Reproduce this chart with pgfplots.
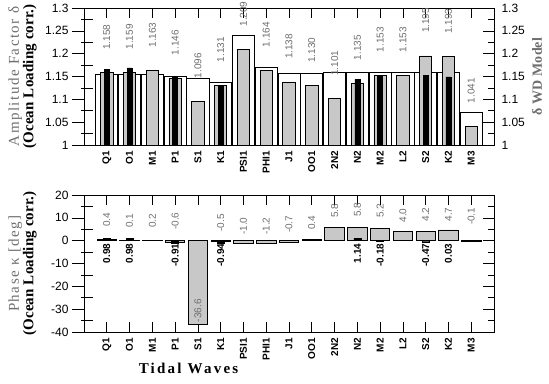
\documentclass[border=0pt]{standalone}
\usepackage{fontspec}
\setmainfont{Liberation Sans}
\newfontfamily\serifA[LetterSpace=10]{Liberation Serif}
\newfontfamily\serifB[LetterSpace=1]{Liberation Serif}
\newfontfamily\serifC[LetterSpace=15]{Liberation Serif}
\usepackage{pgfplots}
\pgfplotsset{compat=1.18}
\definecolor{barg}{RGB}{200,200,200}
\definecolor{txtg}{RGB}{110,110,110}
\pgfplotsset{
  base/.style={scale only axis, width=410pt, height=137pt, xmin=-1, xmax=17,
    /pgf/number format/assume math mode=true,
    tick style={black, line width=0.6pt}, axis line style={line width=0.8pt},
    yticklabel style={font=\fontsize{12}{14}\selectfont}},
  dataaxis/.style={base, xtick={0,...,16},
    xticklabels={Q1,O1,M1,P1,S1,K1,PSI1,PHI1,J1,OO1,2N2,N2,M2,L2,S2,K2,M3},
    xtick pos=both, tick align=inside, major tick length=10pt, ytick=\empty,
    xticklabel style={font=\fontsize{10}{11}\selectfont\bfseries, rotate=90, anchor=east, inner sep=0pt},
    xticklabel shift=6pt, clip mode=individual},
  leftaxis/.style={base, axis x line=none, axis y line*=left, tick align=outside,
    major tick length=12pt, minor tick length=12pt, minor tick style={xshift=9pt},
    every axis y label/.style={at={(axis description cs:0,0.5)}, xshift=-47pt, rotate=90, anchor=south, inner sep=0pt, align=center}},
  rightaxis/.style={base, axis x line=none, axis y line*=right, tick align=inside,
    major tick length=11pt, minor tick length=6pt, yticklabel shift=4pt},
  glabel/.style={draw=none, mark=none, nodes near coords={\pgfplotspointmeta}, point meta=explicit symbolic,
    every node near coord/.style={rotate=90, anchor=west, inner sep=0pt, text=txtg, font=\fontsize{10}{11}\selectfont}},
  klabel/.style={draw=none, mark=none, nodes near coords={\pgfplotspointmeta}, point meta=explicit symbolic,
    every node near coord/.style={rotate=90, anchor=east, inner sep=0pt, text=black, font=\fontsize{10}{11}\selectfont\bfseries}},
}
\begin{document}
\begin{tikzpicture}
\useasboundingbox (0pt,0pt) rectangle (549pt,-383pt);
% ===== top chart =====
\begin{axis}[dataaxis, at={(84pt,-145pt)}, anchor=south west, ymin=1, ymax=1.3]
\addplot[ybar, bar width=0.97, bar shift=0pt, fill=white, draw=black, line width=0.8pt]
 coordinates {(0,1.155)(1,1.155)(2,1.155)(3,1.151)(4,1.146)(5,1.136)(6,1.241)(7,1.170)(8,1.157)(9,1.157)(10,1.160)(11,1.160)(12,1.160)(13,1.160)(14,1.160)(15,1.160)(16,1.072)};
\addplot[ybar, bar width=0.54, bar shift=0pt, fill=barg, draw=black, line width=0.8pt]
 coordinates {(0,1.158)(1,1.159)(2,1.163)(3,1.146)(4,1.096)(5,1.131)(6,1.209)(7,1.164)(8,1.138)(9,1.130)(10,1.101)(11,1.135)(12,1.153)(13,1.153)(14,1.195)(15,1.193)(16,1.041)};
\addplot[ybar, bar width=0.22, bar shift=0pt, fill=black, draw=black, line width=0.4pt]
 coordinates {(0,1.166)(1,1.169)(3,1.150)(5,1.131)(11,1.144)(12,1.152)(14,1.153)(15,1.149)};
\addplot[glabel] coordinates {(0,1.208)[1.158] (1,1.209)[1.159] (2,1.213)[1.163] (3,1.196)[1.146] (4,1.146)[1.096] (5,1.181)[1.131] (6,1.259)[1.209] (7,1.214)[1.164] (8,1.188)[1.138] (9,1.180)[1.130] (10,1.151)[1.101] (11,1.185)[1.135] (12,1.203)[1.153] (13,1.203)[1.153] (14,1.245)[1.195] (15,1.243)[1.193] (16,1.091)[1.041]};
\end{axis}
\begin{axis}[leftaxis, at={(84pt,-145pt)}, anchor=south west, ymin=1, ymax=1.3,
  ytick={1,1.05,1.1,1.15,1.2,1.25,1.3}, minor ytick={1.025,1.075,1.125,1.175,1.225,1.275},
  ylabel={{\fontsize{15}{18}\selectfont\serifA\color{txtg}Amplitude Factor δ}\\{\fontsize{15}{18}\selectfont\serifB\bfseries (Ocean Loading corr.)}}]
\end{axis}
\begin{axis}[rightaxis, at={(84pt,-145pt)}, anchor=south west, ymin=1, ymax=1.3,
  ytick={1,1.05,1.1,1.15,1.2,1.25,1.3}, minor ytick={1.025,1.075,1.125,1.175,1.225,1.275},
  every axis y label/.style={at={(axis description cs:1,0.5)}, xshift=38pt, rotate=90, anchor=north, inner sep=0pt},
  ylabel={\fontsize{14}{18}\selectfont\serifB\bfseries\color{txtg}δ WD Model}]
\end{axis}
% ===== bottom chart =====
\begin{axis}[dataaxis, at={(84pt,-332pt)}, anchor=south west, ymin=-40, ymax=20,
  every axis x label/.style={at={(axis description cs:0.255,0)}, yshift=-31pt, anchor=north, inner sep=0pt},
  xlabel={\fontsize{15}{18}\selectfont\serifC\bfseries Tidal Waves}]
\addplot[ybar, bar width=0.85, bar shift=0pt, fill=barg, draw=black, line width=0.8pt]
 coordinates {(0,0.4)(1,0.1)(2,0.2)(3,-0.6)(4,-36.6)(5,-0.5)(6,-1.0)(7,-1.2)(8,-0.7)(9,0.4)(10,5.8)(11,5.8)(12,5.2)(13,4.0)(14,4.2)(15,4.7)(16,-0.1)};
\addplot[ybar, bar width=0.3, bar shift=0pt, fill=black, draw=black, line width=0.4pt]
 coordinates {(0,0.98)(1,0.98)(3,-0.91)(5,-0.94)(11,1.14)(12,-0.18)(14,-0.47)(15,0.03)};
\addplot[glabel] coordinates {(0,6.0)[0.4] (1,5.5)[0.1] (2,5.5)[0.2] (3,4.7)[-0.6] (4,-35.8)[-36.6] (5,3.9)[-0.5] (6,2.5)[-1.0] (7,2.5)[-1.2] (8,3.3)[-0.7] (9,4.7)[0.4] (10,10.0)[5.8] (11,10.4)[5.8] (12,9.9)[5.2] (13,7.9)[4.0] (14,8.3)[4.2] (15,8.3)[4.7] (16,6.8)[-0.1]};
\addplot[klabel] coordinates {(0,-1.2)[0.98] (1,-1.2)[0.98] (3,-1.2)[-0.91] (5,-1.2)[-0.94] (11,-1.2)[1.14] (12,-1.2)[-0.18] (14,-1.2)[-0.47] (15,-1.2)[0.03]};
\end{axis}
\begin{axis}[leftaxis, at={(84pt,-332pt)}, anchor=south west, ymin=-40, ymax=20,
  ytick={-40,-30,-20,-10,0,10,20}, minor ytick={-35,-25,-15,-5,5,15},
  ylabel={{\fontsize{15}{18}\selectfont\serifA\color{txtg}Phase κ [deg]}\\{\fontsize{15}{18}\selectfont\serifB\bfseries (Ocean Loading corr.)}}]
\end{axis}
\begin{axis}[rightaxis, at={(84pt,-332pt)}, anchor=south west, ymin=-40, ymax=20,
  ytick={-40,-30,-20,-10,0,10,20}, minor ytick={-35,-25,-15,-5,5,15},
  yticklabel style={opacity=0}]
\end{axis}
\end{tikzpicture}
\end{document}
